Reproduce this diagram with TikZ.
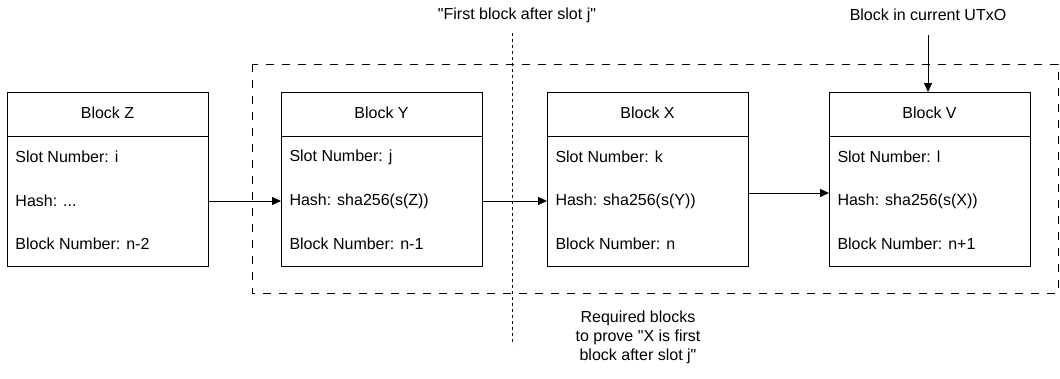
\documentclass[tikz,border=0pt]{standalone}
\usepackage{fontspec}
\setmainfont{Liberation Sans}[Ligatures=TeXOff]
\usetikzlibrary{arrows.meta}
\begin{document}
\begin{tikzpicture}[x=1pt,y=-1pt,
  line width=1pt,
  every node/.style={font=\fontsize{16}{19}\selectfont, inner sep=0pt},
  blockbox/.style={draw, rectangle, anchor=north west, minimum width=201pt, minimum height=174pt},
  field/.style={anchor=west},
  link/.style={-{Triangle[length=9pt,width=8pt]}},
  region/.style={dash pattern=on 8pt off 8pt},
  divider/.style={dash pattern=on 3pt off 3pt}]
\useasboundingbox (0,0) rectangle (1060,378);

% dashed group of required blocks
\draw[region] (252,64) rectangle (1058,293);

% "first block after slot j" marker
\node (firstlbl) at (517,15) {"First block after slot j"};
\coordinate (divtop) at (512,33);
\coordinate (divbot) at (512,345);
\draw[divider] (divtop) -- (divbot);

% one block: name, x, title, slot, hash, number
\newcommand{\chainblock}[6]{%
  \node[blockbox] (#1) at (#2,92) {};
  \draw (#2,136) -- (#2+201,136);
  \node (#1h) at (#2+100.5,113) {#3};
  \node[field] (#1s) at (#2+8,157) {Slot Number: #4};
  \node[field] (#1x) at (#2+8,201) {Hash: #5};
  \node[field] (#1n) at (#2+8,244) {Block Number: #6};
}

\chainblock{Z}{7}{Block Z}{i}{...}{n-2}
\chainblock{Y}{281}{Block Y}{j}{sha256(s(Z))}{n-1}
\chainblock{X}{547}{Block X}{k}{sha256(s(Y))}{n}
\chainblock{V}{829}{Block V}{l}{sha256(s(X))}{n+1}

% hash links
\draw[link] (Z.east |- Zx) -- (Y.west |- Zx);
\draw[link] (Y.east |- Yx) -- (X.west |- Yx);
\coordinate (xv) at (0,193);
\draw[link] (X.east |- xv) -- (V.west |- xv);

% current UTxO pointer
\node (utxo) at (928,15) {Block in current UTxO};
\coordinate (utxotail) at (928,35);
\draw[link] (utxotail) -- (V.north -| utxotail);

% caption of the dashed group
\node[align=center] (reqlbl) at (638,337)
  {Required blocks\\to prove "X is first\\block after slot j"};
\end{tikzpicture}
\end{document}
